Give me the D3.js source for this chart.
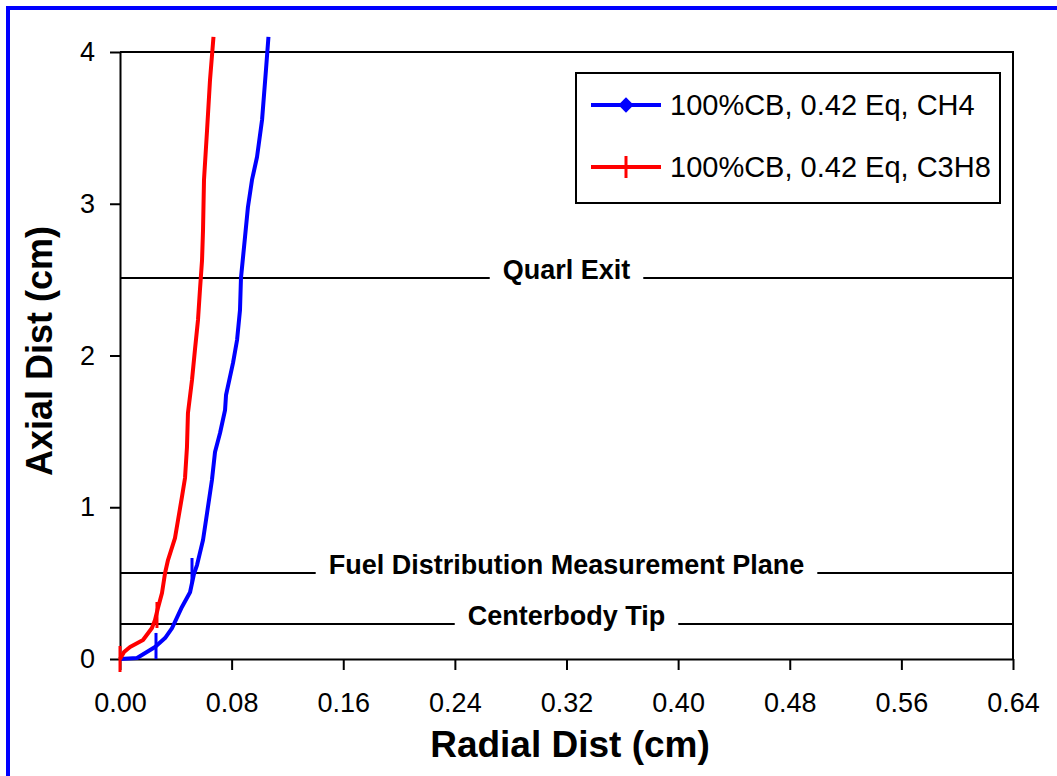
<!DOCTYPE html>
<html>
<head>
<meta charset="utf-8">
<script src="https://cdnjs.cloudflare.com/ajax/libs/d3/7.8.5/d3.min.js"></script>
<style>
	html, body { margin: 0; padding: 0; background: #fff; overflow: hidden; }
	svg { display: block; font-family: 'Liberation Sans', Arial, sans-serif; }
</style>
</head>
<body>
<svg id="chart" width="1057" height="776"></svg>
<script>
/* global d3 */

// values (radial cm, axial cm)
var ch4X = [0, 0.0122, 0.0251, 0.0323, 0.0373, 0.0444, 0.0502, 0.0530, 0.0552, 0.0595, 0.0624, 0.0659, 0.0681, 0.0717, 0.0753, 0.0760, 0.0810, 0.0839, 0.0860, 0.0867, 0.0896, 0.0917, 0.0946, 0.0982, 0.1018, 0.1046, 0.1064];
var ch4Y = [0, 0.007, 0.079, 0.138, 0.204, 0.343, 0.440, 0.560, 0.619, 0.784, 0.962, 1.180, 1.364, 1.489, 1.641, 1.740, 1.951, 2.102, 2.300, 2.511, 2.781, 2.979, 3.157, 3.308, 3.552, 3.881, 4.10];
var c3h8X = [0, 0.0029, 0.0072, 0.0165, 0.0229, 0.0251, 0.0272, 0.0301, 0.0323, 0.0344, 0.0394, 0.0416, 0.0444, 0.0466, 0.0480, 0.0487, 0.0516, 0.0537, 0.0559, 0.0573, 0.0588, 0.0595, 0.0602, 0.0624, 0.0645, 0.0670];
var c3h8Y = [0, 0.046, 0.079, 0.125, 0.204, 0.257, 0.336, 0.435, 0.567, 0.652, 0.797, 0.916, 1.068, 1.193, 1.397, 1.621, 1.839, 2.036, 2.234, 2.432, 2.629, 2.827, 3.157, 3.486, 3.815, 4.10];

// points where the marker is visible
var ch4MarkX = [0.0258, 0.0516];
var ch4MarkY = [0.086, 0.580];
var c3h8MarkX = [0, 0.0265];
var c3h8MarkY = [0, 0.29];

var seriesNames = ['100%CB, 0.42 Eq, CH4', '100%CB, 0.42 Eq, C3H8'];
var seriesColors = ['#0000ff', '#ff0000'];

var planeNames = ['Quarl Exit', 'Fuel Distribution Measurement Plane', 'Centerbody Tip'];
var planeY = [2.51, 0.567, 0.231];

var xTicks = [0, 0.08, 0.16, 0.24, 0.32, 0.40, 0.48, 0.56, 0.64];
var yTicks = [0, 1, 2, 3, 4];

var svg = d3.select('#chart');

// blaue Umrandung
svg.append('rect')
	.attr('x', 8).attr('y', 8)
	.attr('width', 1200).attr('height', 900)
	.attr('fill', '#fff').attr('stroke', '#0000ff').attr('stroke-width', 4);

var x = d3.scaleLinear().domain([0, 0.64]).range([120, 1013]);
var y = d3.scaleLinear().domain([0, 4]).range([659, 52]);

// frame top / right
svg.append('path')
	.attr('d', 'M' + x(0) + ',' + y(4) + 'H' + x(0.64) + 'V' + y(0))
	.attr('fill', 'none').attr('stroke', '#000').attr('stroke-width', 2);

// reference planes with their labels
var gPlanes = svg.append('g');
var xMid = x(0.32);
planeNames.forEach(function (name, i) {
	var yy = y(planeY[i]);
	var t = gPlanes.append('text')
		.attr('x', xMid).attr('y', yy + 1)
		.attr('text-anchor', 'middle')
		.attr('font-size', 27).attr('font-weight', 'bold')
		.text(name);
	var w = t.node().getComputedTextLength();
	gPlanes.append('line')
		.attr('x1', x(0)).attr('x2', xMid - w / 2 - 13)
		.attr('y1', yy).attr('y2', yy)
		.attr('stroke', '#000').attr('stroke-width', 2);
	gPlanes.append('line')
		.attr('x1', xMid + w / 2 + 13).attr('x2', x(0.64))
		.attr('y1', yy).attr('y2', yy)
		.attr('stroke', '#000').attr('stroke-width', 2);
});

// axes
var xAxis = svg.append('g')
	.attr('transform', 'translate(0,' + y(0) + ')')
	.call(d3.axisBottom(x).tickValues(xTicks).tickFormat(d3.format('.2f')).tickSize(11).tickSizeOuter(0).tickPadding(23));
var yAxis = svg.append('g')
	.attr('transform', 'translate(' + x(0) + ',0)')
	.call(d3.axisLeft(y).tickValues(yTicks).tickFormat(d3.format('d')).tickSize(10).tickSizeOuter(0).tickPadding(15));
[xAxis, yAxis].forEach(function (a) {
	a.attr('font-family', null).attr('font-size', null);
	a.selectAll('path, line').attr('stroke', '#000').attr('stroke-width', 2);
	a.selectAll('text').attr('fill', '#000').attr('font-size', 27);
});

svg.append('text')
	.attr('x', 570).attr('y', 757)
	.attr('text-anchor', 'middle')
	.attr('font-size', 37).attr('font-weight', 'bold')
	.text('Radial Dist (cm)');
svg.append('text')
	.attr('transform', 'translate(52,351) rotate(-90)')
	.attr('text-anchor', 'middle')
	.attr('font-size', 36).attr('font-weight', 'bold')
	.text('Axial Dist (cm)');

// curves
var line = d3.line().x(function (d) { return x(d[0]); }).y(function (d) { return y(d[1]); });
var curves = [d3.zip(ch4X, ch4Y), d3.zip(c3h8X, c3h8Y)];
var marks = [d3.zip(ch4MarkX, ch4MarkY), d3.zip(c3h8MarkX, c3h8MarkY)];
curves.forEach(function (pts, i) {
	svg.append('path')
		.datum(pts)
		.attr('d', line)
		.attr('fill', 'none')
		.attr('stroke', seriesColors[i])
		.attr('stroke-width', 4)
		.attr('stroke-linejoin', 'round');
	svg.append('g').selectAll('line')
		.data(marks[i])
		.join('line')
		.attr('x1', function (d) { return x(d[0]); })
		.attr('x2', function (d) { return x(d[0]); })
		.attr('y1', function (d) { return y(d[1]) - 13; })
		.attr('y2', function (d) { return y(d[1]) + 13; })
		.attr('stroke', seriesColors[i])
		.attr('stroke-width', 3);
});

// legend
var legend = svg.append('g').attr('transform', 'translate(576,73)');
legend.append('rect')
	.attr('width', 424).attr('height', 130)
	.attr('fill', '#fff').attr('stroke', '#000').attr('stroke-width', 2);
seriesNames.forEach(function (name, i) {
	var row = legend.append('g').attr('transform', 'translate(0,' + (32 + i * 62) + ')');
	row.append('line')
		.attr('x1', 15).attr('x2', 85)
		.attr('stroke', seriesColors[i]).attr('stroke-width', 4);
	if (i === 0) {
		row.append('path')
			.attr('d', d3.symbol(d3.symbolDiamond2, 150))
			.attr('transform', 'translate(50,0)')
			.attr('fill', seriesColors[i]);
	} else {
		row.append('line')
			.attr('x1', 50).attr('x2', 50).attr('y1', -11).attr('y2', 11)
			.attr('stroke', seriesColors[i]).attr('stroke-width', 3);
	}
	row.append('text')
		.attr('x', 94).attr('y', 10)
		.attr('font-size', 29)
		.text(name);
});
</script>
</body>
</html>
